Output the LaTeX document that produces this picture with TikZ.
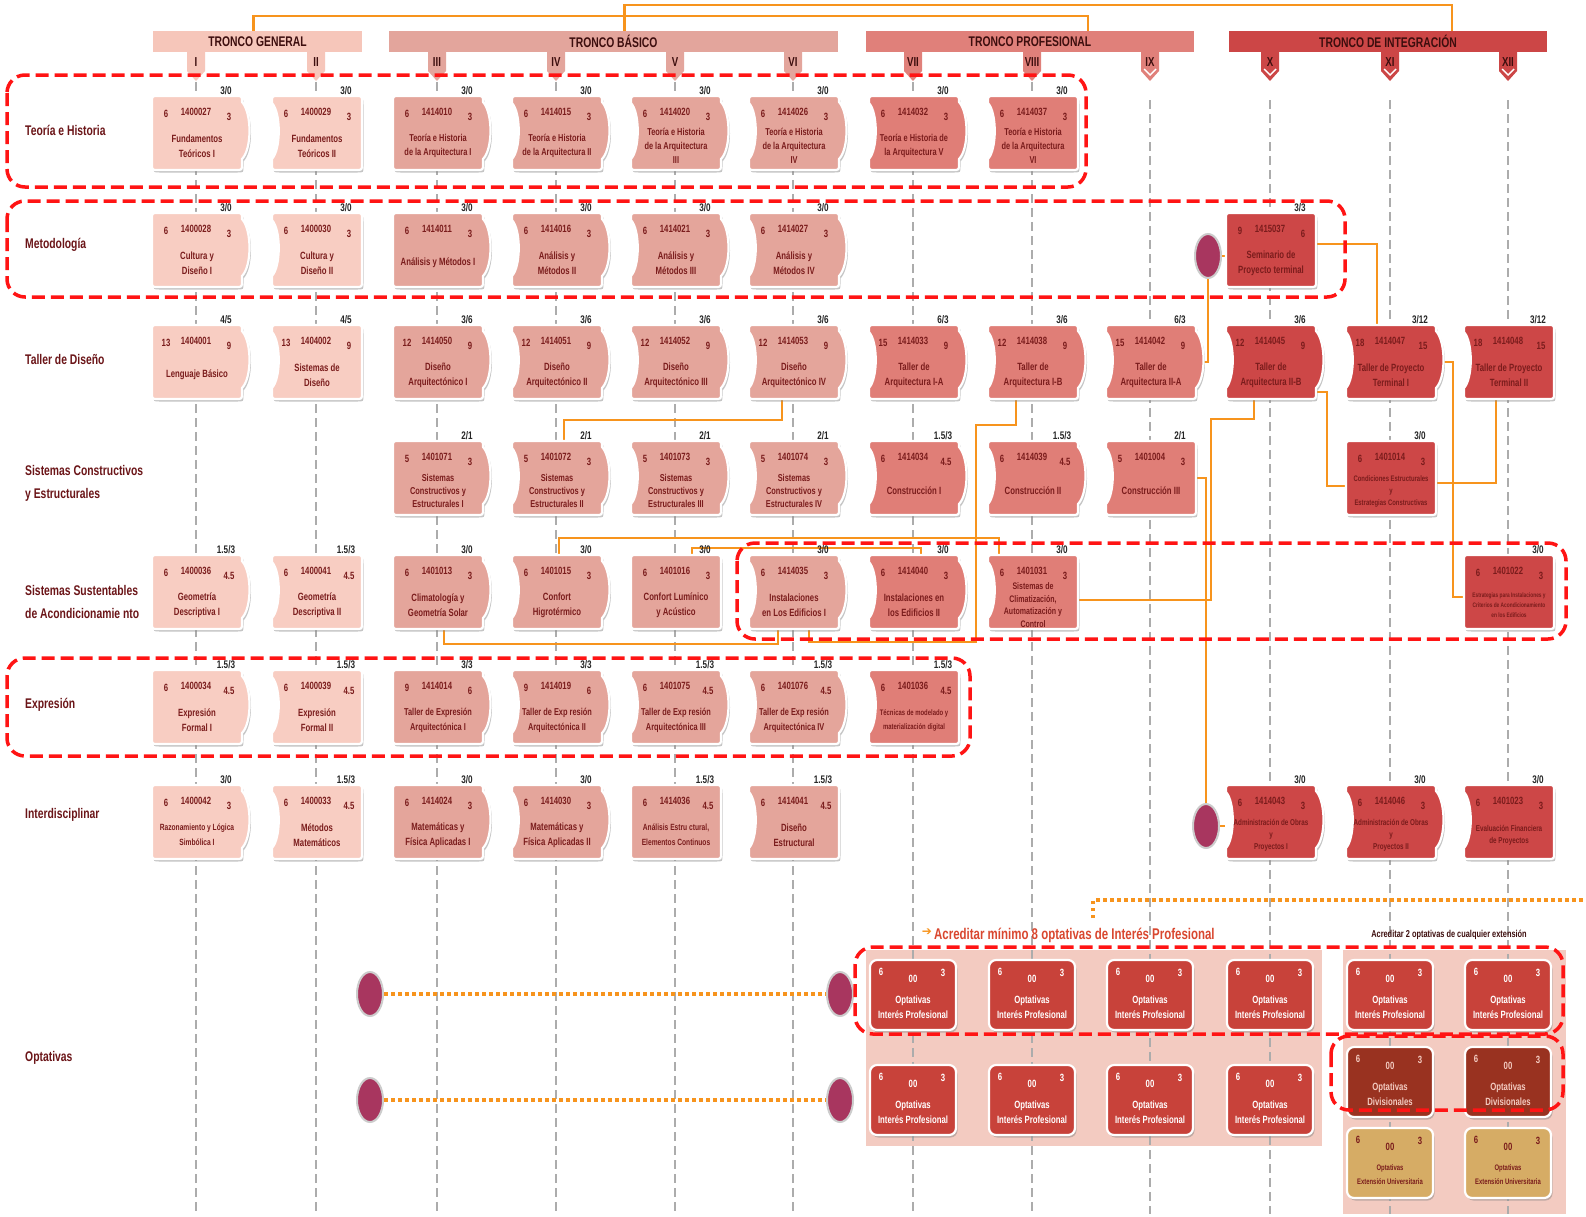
\documentclass[tikz,border=0pt]{standalone}
\usepackage{fontspec}
\setmainfont{Liberation Sans}[FakeStretch=0.74]
\newfontfamily\djv{DejaVu Sans}
\usetikzlibrary{calc,shapes.geometric}

\definecolor{cGen}{HTML}{F8CDC2}
\definecolor{hGenC}{HTML}{F6C6BA}
\definecolor{cBas}{HTML}{E4A59B}
\definecolor{hBasC}{HTML}{E3A59C}
\definecolor{cPro}{HTML}{E07E77}
\definecolor{hProC}{HTML}{E0807A}
\definecolor{cInt}{HTML}{CD4747}
\definecolor{hIntC}{HTML}{CC4646}
\definecolor{optc}{HTML}{C8423A}
\definecolor{divc}{HTML}{993220}
\definecolor{extc}{HTML}{D6AC65}
\definecolor{pinkbg}{HTML}{F3CBC1}
\definecolor{orng}{HTML}{F7941D}
\definecolor{magc}{HTML}{A8365F}
\definecolor{txtc}{HTML}{7A1C1C}
\definecolor{rowc}{HTML}{6B1518}
\definecolor{hdrtxt}{HTML}{3D0E0E}
\definecolor{redd}{HTML}{FF1414}
\definecolor{acred}{HTML}{D9472F}

\newcommand\fsz[2]{\fontsize{#1}{#2}\selectfont}
\newcommand\ctfont{\fsz{10.5}{15}}
\newcommand\setct[2]{\renewcommand\ctfont{\fsz{#1}{#2}}}
\newcommand\resetct{\renewcommand\ctfont{\fsz{10.5}{15}}}

\def\shpCV{(-38,-37) -- (40,-37) .. controls (46,-37) .. (46,-31) .. controls (56,-20) and (56,16) .. (46,26) -- (46,31) .. controls (46,37) .. (40,37) -- (-38,37) .. controls (-44,37) .. (-44,31) -- (-44,26) .. controls (-35,16) and (-35,-20) .. (-44,-30) -- (-44,-31) .. controls (-44,-37) .. (-38,-37) -- cycle}
\def\shpSV{(-38,-37) -- (40,-37) .. controls (46,-37) .. (46,-31) .. controls (56,-20) and (56,16) .. (46,26) -- (46,31) .. controls (46,37) .. (40,37) -- (-38,37) .. controls (-44,37) .. (-44,31) -- (-44,-31) .. controls (-44,-37) .. (-38,-37) -- cycle}
\def\shpCS{(-38,-37) -- (40,-37) .. controls (46,-37) .. (46,-31) -- (46,31) .. controls (46,37) .. (40,37) -- (-38,37) .. controls (-44,37) .. (-44,31) -- (-44,26) .. controls (-35,16) and (-35,-20) .. (-44,-30) -- (-44,-31) .. controls (-44,-37) .. (-38,-37) -- cycle}
\def\shpSS{(-38,-37) -- (40,-37) .. controls (46,-37) .. (46,-31) -- (46,31) .. controls (46,37) .. (40,37) -- (-38,37) .. controls (-44,37) .. (-44,31) -- (-44,-31) .. controls (-44,-37) .. (-38,-37) -- cycle}

\def\splitcred#1/#2/#3\relax{\def\credL{#1}\def\credC{#2}\def\credR{#3}}

\tikzset{
 cardnode/.style={rectangle, minimum width=90pt, minimum height=74pt, inner sep=0pt},
 credit/.style={inner sep=0pt, font=\bfseries\fsz{10.5}{11}, text=txtc},
 ctitle/.style={inner sep=0pt, align=center, font=\bfseries\ctfont, text=txtc},
 toplab/.style={inner sep=0pt, font=\bfseries\fsz{11}{12}, text=black!85},
 conn/.style={draw=orng, line width=2.2pt},
 dotconn/.style={draw=orng, line width=3.2pt, dash pattern=on 3.5pt off 3.5pt},
 redbox/.style={draw=redd, line width=3.5pt, dash pattern=on 13pt off 6pt, rounded corners=18pt},
 vline/.style={draw=gray!65, line width=1.3pt, dash pattern=on 9pt off 5pt},
 hdr/.style={minimum height=21pt, inner sep=0pt, font=\bfseries\fsz{14}{15}, text=hdrtxt},
 rowlab/.style={anchor=west, inner sep=0pt, align=left, font=\bfseries\fsz{14}{23}, text=rowc},
 bubble/.style={ellipse, minimum width=26pt, minimum height=44pt, inner sep=0pt, fill=magc, draw=gray!40, line width=2pt},
 numlab/.style={inner sep=0pt, font=\bfseries\fsz{13}{14}, text=hdrtxt},
 optbox/.style={rectangle, rounded corners=7pt, minimum width=86pt, minimum height=70pt, draw=white, line width=2.2pt},
 opttxt/.style={inner sep=0pt, font=\bfseries\fsz{10.5}{11}},
}

% #1 shape, #2 name, #3 x, #4 y, #5 colour, #6 credits l/code/r, #7 title, #8 top label
\newcommand\card[8][CV]{%
 \expandafter\let\expandafter\curshape\csname shp#1\endcsname
 \begin{scope}[shift={(#3,#4)}]
  \fill[black!50,opacity=.45,shift={(1.5,2.5)}] \curshape;
  \filldraw[fill=#5,draw=white,line width=2.2pt] \curshape;
 \end{scope}
 \node[cardnode] (#2) at (#3,#4) {};
 \splitcred#6\relax
 \node[credit] (#2-l) at ($(#2)+(-30,-19)$) {\credL};
 \node[credit] (#2-c) at ($(#2)+(0,-21)$) {\credC};
 \node[credit] (#2-r) at ($(#2)+(33,-16)$) {\credR};
 \node[ctitle] (#2-t) at ($(#2)+(1,13)$) {#7};
 \node[toplab] (#2-h) at ($(#2)+(30,-42)$) {#8};
}

% #1 name, #2 x, #3 y, #4 fill, #5 text colour, #6 title, #7 title font
\newcommand\optcard[7]{%
 \fill[black!50,opacity=.45,rounded corners=7pt] ($(#2,#3)+(-41.5,-32.5)$) rectangle ($(#2,#3)+(44.5,37.5)$);
 \node[optbox, fill=#4] (#1) at (#2,#3) {};
 \node[opttxt, text=#5] (#1-l) at ($(#1)+(-32,-23)$) {6};
 \node[opttxt, text=#5] (#1-c) at ($(#1)+(0,-16)$) {00};
 \node[opttxt, text=#5] (#1-r) at ($(#1)+(30,-22)$) {3};
 \node[inner sep=0pt, align=center, font=\bfseries#7, text=#5] (#1-t) at ($(#1)+(0,12)$) {#6};
}

% #1 name, #2 x, #3 colour, #4 numeral, #5 chevron (1/0)
\newcommand\romnum[5]{%
 \fill[#3] (#2-9,52) -- (#2+9,52) -- (#2+9,71) -- (#2,81) -- (#2-9,71) -- cycle;
 \ifnum#5=1 \draw[white,line width=1.4pt] (#2-6,69) -- (#2,75) -- (#2+6,69);\fi
 \node[numlab] (#1) at (#2,62) {#4};
}

\def\xcI{196}\def\xcII{316}\def\xcIII{437}\def\xcIV{556}\def\xcV{675}\def\xcVI{793}
\def\xcVII{913}\def\xcVIII{1032}\def\xcIX{1150}\def\xcX{1270}\def\xcXI{1390}\def\xcXII{1508}
\def\yT{133}\def\yM{250}\def\yD{362}\def\yC{478}\def\yS{592}\def\yE{707}\def\yX{822}

\pgfdeclarelayer{back}\pgfdeclarelayer{bg}
\pgfsetlayers{back,bg,main}

\begin{document}
\begin{tikzpicture}[x=1pt,y=-1pt]
\useasboundingbox (0,0) rectangle (1586,1216);
\begin{pgfonlayer}{back}
 \fill[white] (0,0) rectangle (1586,1216);
 \fill[pinkbg] (866,950) rectangle (1322,1146);
 \fill[pinkbg] (1343,950) rectangle (1566,1214);
 \foreach \xx in {\xcI,\xcII,\xcIII,\xcIV,\xcV,\xcVI,\xcVII,\xcVIII} \draw[vline] (\xx,82) -- (\xx,1214);
 \foreach \xx in {\xcIX,\xcX,\xcXI,\xcXII} \draw[vline] (\xx,100) -- (\xx,1214);
\end{pgfonlayer}

% headers
\node[hdr, fill=hGenC, minimum width=209pt] (hGen) at (257.5,41.5) {TRONCO GENERAL};
\node[hdr, fill=hBasC, minimum width=449pt] (hBas) at (613.5,41.5) {TRONCO BÁSICO};
\node[hdr, fill=hProC, minimum width=328pt] (hPro) at (1030,41.5) {TRONCO PROFESIONAL};
\node[hdr, fill=hIntC, minimum width=318pt] (hInt) at (1388,41.5) {TRONCO DE INTEGRACIÓN};
\romnum{nI}{\xcI}{hGenC}{I}{0}
\romnum{nII}{\xcII}{hGenC}{II}{0}
\romnum{nIII}{\xcIII}{hBasC}{III}{0}
\romnum{nIV}{\xcIV}{hBasC}{IV}{0}
\romnum{nV}{\xcV}{hBasC}{V}{0}
\romnum{nVI}{\xcVI}{hBasC}{VI}{0}
\romnum{nVII}{\xcVII}{hProC}{VII}{0}
\romnum{nVIII}{\xcVIII}{hProC}{VIII}{0}
\romnum{nIX}{\xcIX}{hProC}{IX}{1}
\romnum{nX}{\xcX}{hIntC}{X}{1}
\romnum{nXI}{\xcXI}{hIntC}{XI}{1}
\romnum{nXII}{\xcXII}{hIntC}{XII}{1}

% row labels
\node[rowlab] (lT) at (25,\yT-3) {Teoría e Historia};
\node[rowlab] (lM) at (25,\yM-5) {Metodología};
\node[rowlab] (lD) at (25,\yD-3) {Taller de Diseño};
\node[rowlab] (lC) at (25,\yC+5) {Sistemas Constructivos\\y Estructurales};
\node[rowlab] (lS) at (25,\yS+10) {Sistemas Sustentables\\de Acondicionamie nto};
\node[rowlab] (lE) at (25,\yE-2) {Expresión};
\node[rowlab] (lX) at (25,\yX-7) {Interdisciplinar};
\node[rowlab] (lO) at (25,1058) {Optativas};

% Teoría e Historia
\card[SV]{thI}{\xcI}{\yT}{cGen}{6/1400027/3}{Fundamentos\\Teóricos I}{3/0}
\card[CS]{thII}{\xcII}{\yT}{cGen}{6/1400029/3}{Fundamentos\\Teóricos II}{3/0}
\setct{10}{14}
\card[SV]{thIII}{\xcIII}{\yT}{cBas}{6/1414010/3}{Teoría e Historia\\de la Arquitectura I}{3/0}
\card[CV]{thIV}{\xcIV}{\yT}{cBas}{6/1414015/3}{Teoría e Historia\\de la Arquitectura II}{3/0}
\card[CV]{thV}{\xcV}{\yT}{cBas}{6/1414020/3}{Teoría e Historia\\de la Arquitectura\\III}{3/0}
\card[CV]{thVI}{\xcVI}{\yT}{cBas}{6/1414026/3}{Teoría e Historia\\de la Arquitectura\\IV}{3/0}
\card[CV]{thVII}{\xcVII}{\yT}{cPro}{6/1414032/3}{Teoría e Historia de\\la Arquitectura V}{3/0}
\card[CS]{thVIII}{\xcVIII}{\yT}{cPro}{6/1414037/3}{Teoría e Historia\\de la Arquitectura\\VI}{3/0}
\resetct

% Metodología
\card[SV]{meI}{\xcI}{\yM}{cGen}{6/1400028/3}{Cultura y\\Diseño I}{3/0}
\card[CS]{meII}{\xcII}{\yM}{cGen}{6/1400030/3}{Cultura y\\Diseño II}{3/0}
\card[SV]{meIII}{\xcIII}{\yM}{cBas}{6/1414011/3}{Análisis y Métodos I}{3/0}
\card[CV]{meIV}{\xcIV}{\yM}{cBas}{6/1414016/3}{Análisis y\\Métodos II}{3/0}
\card[CV]{meV}{\xcV}{\yM}{cBas}{6/1414021/3}{Análisis y\\Métodos III}{3/0}
\card[CV]{meVI}{\xcVI}{\yM}{cBas}{6/1414027/3}{Análisis y\\Métodos IV}{3/0}
\card[SS]{sem}{\xcX}{\yM}{cInt}{9/1415037/6}{Seminario de\\Proyecto terminal}{3/3}

% Taller de Diseño
\card[SV]{tdI}{\xcI}{\yD}{cGen}{13/1404001/9}{Lenguaje Básico}{4/5}
\card[CS]{tdII}{\xcII}{\yD}{cGen}{13/1404002/9}{Sistemas de\\Diseño}{4/5}
\card[SV]{tdIII}{\xcIII}{\yD}{cBas}{12/1414050/9}{Diseño\\Arquitectónico I}{3/6}
\card[CV]{tdIV}{\xcIV}{\yD}{cBas}{12/1414051/9}{Diseño\\Arquitectónico II}{3/6}
\card[CV]{tdV}{\xcV}{\yD}{cBas}{12/1414052/9}{Diseño\\Arquitectónico III}{3/6}
\card[CV]{tdVI}{\xcVI}{\yD}{cBas}{12/1414053/9}{Diseño\\Arquitectónico IV}{3/6}
\card[CV]{tdVII}{\xcVII}{\yD}{cPro}{15/1414033/9}{Taller de\\Arquitectura I-A}{6/3}
\card[CV]{tdVIII}{\xcVIII}{\yD}{cPro}{12/1414038/9}{Taller de\\Arquitectura I-B}{3/6}
\card[CV]{tdIX}{\xcIX}{\yD}{cPro}{15/1414042/9}{Taller de\\Arquitectura II-A}{6/3}
\card[CV]{tdX}{\xcX}{\yD}{cInt}{12/1414045/9}{Taller de\\Arquitectura II-B}{3/6}
\card[CV]{tdXI}{\xcXI}{\yD}{cInt}{18/1414047/15}{Taller de Proyecto\\Terminal I}{3/12}
\card[CS]{tdXII}{\xcXII}{\yD}{cInt}{18/1414048/15}{Taller de Proyecto\\Terminal II}{3/12}

% Sistemas Constructivos y Estructurales
\setct{10}{13}
\card[SV]{scIII}{\xcIII}{\yC}{cBas}{5/1401071/3}{Sistemas\\Constructivos y\\Estructurales I}{2/1}
\card[CV]{scIV}{\xcIV}{\yC}{cBas}{5/1401072/3}{Sistemas\\Constructivos y\\Estructurales II}{2/1}
\card[CV]{scV}{\xcV}{\yC}{cBas}{5/1401073/3}{Sistemas\\Constructivos y\\Estructurales III}{2/1}
\card[CV]{scVI}{\xcVI}{\yC}{cBas}{5/1401074/3}{Sistemas\\Constructivos y\\Estructurales IV}{2/1}
\resetct
\card[CV]{scVII}{\xcVII}{\yC}{cPro}{6/1414034/4.5}{Construcción I}{1.5/3}
\card[CV]{scVIII}{\xcVIII}{\yC}{cPro}{6/1414039/4.5}{Construcción II}{1.5/3}
\card[CS]{scIX}{\xcIX}{\yC}{cPro}{5/1401004/3}{Construcción III}{2/1}
\setct{8}{12}
\card[SS]{cond}{\xcXI}{\yC}{cInt}{6/1401014/3}{Condiciones Estructurales\\y\\Estrategias Constructivas}{3/0}
\resetct

% Sistemas Sustentables
\card[SV]{ssI}{\xcI}{\yS}{cGen}{6/1400036/4.5}{Geometría\\Descriptiva I}{1.5/3}
\card[CS]{ssII}{\xcII}{\yS}{cGen}{6/1400041/4.5}{Geometría\\Descriptiva II}{1.5/3}
\card[SV]{ssIII}{\xcIII}{\yS}{cBas}{6/1401013/3}{Climatología y\\Geometría Solar}{3/0}
\card[CV]{ssIV}{\xcIV}{\yS}{cBas}{6/1401015/3}{Confort\\Higrotérmico}{3/0}
\card[SS]{ssV}{\xcV}{\yS}{cBas}{6/1401016/3}{Confort Lumínico\\y Acústico}{3/0}
\card[CV]{ssVI}{\xcVI}{\yS}{cBas}{6/1414035/3}{Instalaciones\\en Los Edificios I}{3/0}
\card[CV]{ssVII}{\xcVII}{\yS}{cPro}{6/1414040/3}{Instalaciones en\\los Edificios II}{3/0}
\setct{9.5}{12.5}
\card[CS]{ssVIII}{\xcVIII}{\yS}{cPro}{6/1401031/3}{Sistemas de\\Climatización,\\Automatización y\\Control}{3/0}
\setct{6.5}{10}
\card[SS]{ssXII}{\xcXII}{\yS}{cInt}{6/1401022/3}{Estrategias para Instalaciones y\\Criterios de Acondicionamiento\\en los Edificios}{3/0}
\resetct

% Expresión
\card[SV]{exI}{\xcI}{\yE}{cGen}{6/1400034/4.5}{Expresión\\Formal I}{1.5/3}
\card[CS]{exII}{\xcII}{\yE}{cGen}{6/1400039/4.5}{Expresión\\Formal II}{1.5/3}
\setct{10}{15}
\card[SV]{exIII}{\xcIII}{\yE}{cBas}{9/1414014/6}{Taller de Expresión\\Arquitectónica I}{3/3}
\card[CV]{exIV}{\xcIV}{\yE}{cBas}{9/1414019/6}{Taller de Exp resión\\Arquitectónica II}{3/3}
\card[CV]{exV}{\xcV}{\yE}{cBas}{6/1401075/4.5}{Taller de Exp resión\\Arquitectónica III}{1.5/3}
\card[CV]{exVI}{\xcVI}{\yE}{cBas}{6/1401076/4.5}{Taller de Exp resión\\Arquitectónica IV}{1.5/3}
\setct{8}{14}
\card[CS]{exVII}{\xcVII}{\yE}{cPro}{6/1401036/4.5}{Técnicas de modelado y\\materialización digital}{1.5/3}
\resetct

% Interdisciplinar
\setct{9}{15}
\card[SV]{inI}{\xcI}{\yX}{cGen}{6/1400042/3}{Razonamiento y Lógica\\Simbólica I}{3/0}
\resetct
\card[CS]{inII}{\xcII}{\yX}{cGen}{6/1400033/4.5}{Métodos\\Matemáticos}{1.5/3}
\card[SV]{inIII}{\xcIII}{\yX}{cBas}{6/1414024/3}{Matemáticas y\\Física Aplicadas I}{3/0}
\card[CV]{inIV}{\xcIV}{\yX}{cBas}{6/1414030/3}{Matemáticas y\\Física Aplicadas II}{3/0}
\setct{9}{15}
\card[SS]{inV}{\xcV}{\yX}{cBas}{6/1414036/4.5}{Análisis Estru ctural,\\Elementos Continuos}{1.5/3}
\resetct
\card[CS]{inVI}{\xcVI}{\yX}{cBas}{6/1414041/4.5}{Diseño\\Estructural}{1.5/3}
\setct{8.5}{12}
\card[CV]{inX}{\xcX}{\yX}{cInt}{6/1414043/3}{Administración de Obras\\y\\Proyectos I}{3/0}
\card[CV]{inXI}{\xcXI}{\yX}{cInt}{6/1414046/3}{Administración de Obras\\y\\Proyectos II}{3/0}
\card[CS]{inXII}{\xcXII}{\yX}{cInt}{6/1401023/3}{Evaluación Financiera\\de Proyectos}{3/0}
\resetct

% bubbles
\node[bubble] (bubA) at (1208,256) {};
\node[bubble] (bubB) at (1206,826) {};
\node[bubble] (ob1) at (370,994) {};
\node[bubble] (ob2) at (840,994) {};
\node[bubble] (ob3) at (370,1100) {};
\node[bubble] (ob4) at (840,1100) {};

% optativas
\optcard{o1a}{\xcVII}{995}{optc}{white}{Optativas\\Interés Profesional}{\fsz{10.5}{15}}
\optcard{o1b}{\xcVIII}{995}{optc}{white}{Optativas\\Interés Profesional}{\fsz{10.5}{15}}
\optcard{o1c}{\xcIX}{995}{optc}{white}{Optativas\\Interés Profesional}{\fsz{10.5}{15}}
\optcard{o1d}{\xcX}{995}{optc}{white}{Optativas\\Interés Profesional}{\fsz{10.5}{15}}
\optcard{o1e}{\xcXI}{995}{optc}{white}{Optativas\\Interés Profesional}{\fsz{10.5}{15}}
\optcard{o1f}{\xcXII}{995}{optc}{white}{Optativas\\Interés Profesional}{\fsz{10.5}{15}}
\optcard{o2a}{\xcVII}{1100}{optc}{white}{Optativas\\Interés Profesional}{\fsz{10.5}{15}}
\optcard{o2b}{\xcVIII}{1100}{optc}{white}{Optativas\\Interés Profesional}{\fsz{10.5}{15}}
\optcard{o2c}{\xcIX}{1100}{optc}{white}{Optativas\\Interés Profesional}{\fsz{10.5}{15}}
\optcard{o2d}{\xcX}{1100}{optc}{white}{Optativas\\Interés Profesional}{\fsz{10.5}{15}}
\optcard{dva}{\xcXI}{1082}{divc}{pinkbg}{Optativas\\Divisionales}{\fsz{10.5}{15}}
\optcard{dvb}{\xcXII}{1082}{divc}{pinkbg}{Optativas\\Divisionales}{\fsz{10.5}{15}}
\optcard{exa}{\xcXI}{1163}{extc}{txtc}{Optativas\\Extensión Universitaria}{\fsz{8}{14}}
\optcard{exb}{\xcXII}{1163}{extc}{txtc}{Optativas\\Extensión Universitaria}{\fsz{8}{14}}

% notes
\node[anchor=west, inner sep=0pt, text=acred, font=\bfseries\fsz{15.5}{17}] (acr) at (934,935) {Acreditar mínimo 8 optativas de Interés Profesional};
\node[anchor=east, inner sep=0pt, text=orng, font=\djv\bfseries\fsz{12}{13}] (acrArrow) at ($(acr.west)+(-2,-3)$) {➔};
\node[inner sep=0pt, text=hdrtxt, font=\bfseries\fsz{10}{11}] (acr2) at (1449,935) {Acreditar 2 optativas de cualquier extensión};
\coordinate (dA) at (1093,918);
\coordinate (dB) at (1586,900);

% connectors
\begin{pgfonlayer}{bg}
 \draw[conn] ($(hGen.north)+(-4,0)$) |- ($(hPro.north)+(58,-15)$) -- ($(hPro.north)+(58,0)$);
 \draw[conn] ($(hBas.north)+(11,0)$) |- ($(hInt.north)+(64,-26)$) -- ($(hInt.north)+(64,0)$);
 \draw[conn] ($(tdVI.south)+(-11,0)$) -- ++(0,21) -| ($(scIV.north)+(8,0)$);
 \draw[conn] ($(tdVIII.south)+(-16,0)$) |- (976,425) |- ($(ssVI.south)+(16,13)$) -- ($(ssVI.south)+(16,0)$);
 \draw[conn] ($(ssIII.south)+(7,0)$) -- ++(0,15) -| ($(ssVI.south)+(-15,0)$);
 \draw[conn] ($(ssIV.north)+(3,0)$) -- ++(0,-17) -| ($(ssVIII.north)+(-33,0)$);
 \draw[conn] ($(ssV.north)+(17,0)$) -- ++(0,-7) -| ($(ssVII.north)+(8,0)$);
 \draw[conn] ($(tdX.south)+(-16,0)$) |- (1211,419) |- ($(ssVIII.east)+(0,8)$);
 \draw[conn] (scIX.east) -| (bubB.north);
 \draw[conn] (tdIX.east) -| (bubA.south);
 \draw[conn] (bubA.east) -- (sem.west |- bubA.east);
 \draw[conn] (bubB.east) -- (inX.west |- bubB.east);
 \draw[conn] ($(sem.east)+(0,-6)$) -| ($(tdXI.north)+(-13,0)$);
 \draw[conn] ($(tdX.east)+(0,30)$) -- ++(12,0) |- ($(cond.west)+(0,8)$);
 \draw[conn] ($(tdXI.east)+(4,0)$) -- ++(14,0) |- ($(ssXII.west)+(0,5)$);
 \draw[conn] ($(cond.east)+(0,5)$) -| ($(tdXII.south)+(-12,0)$);
 \draw[dotconn] (ob1.east) -- (ob2.west);
 \draw[dotconn] (ob3.east) -- (ob4.west);
 \draw[dotconn] (dA) |- (dB);
\end{pgfonlayer}

% dashed groups
\draw[redbox] (7,75) rectangle (1086,187);
\draw[redbox] (7,201) rectangle (1345,297);
\draw[redbox] (737,543) rectangle (1566,639);
\draw[redbox] (7,658) rectangle (970,756);
\draw[redbox] (855,947) rectangle (1563,1034);
\draw[redbox] (1331,1036) rectangle (1563,1110);
\end{tikzpicture}
\end{document}
